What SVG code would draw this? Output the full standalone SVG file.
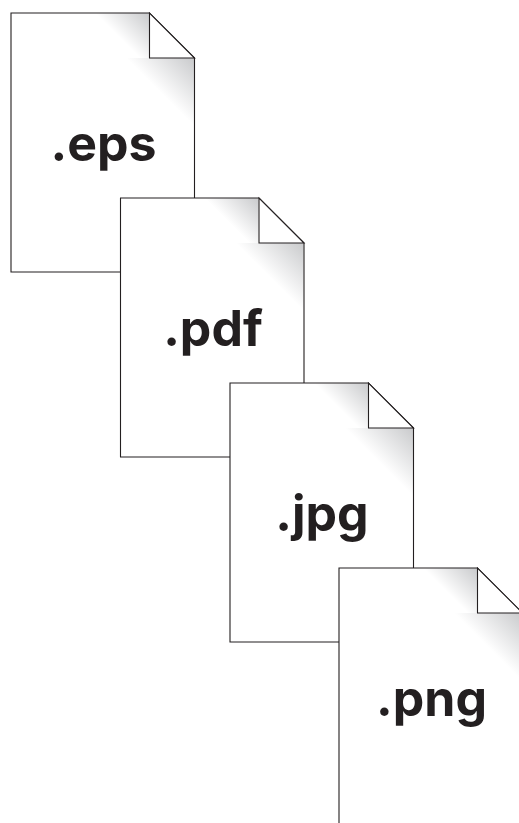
<svg xmlns="http://www.w3.org/2000/svg" width="519" height="823" viewBox="0 0 519 823">
<style>
.page{fill:#fff;stroke:none}
.edge{fill:none;stroke:#231f20;stroke-width:1.1;stroke-linejoin:miter}
.fold{fill:#fff;stroke:#231f20;stroke-width:1.1}
.label{font-family:"Inter","Liberation Sans",sans-serif;font-weight:700;font-size:50px;fill:#231f20;text-anchor:middle}
</style>
<defs>
<linearGradient id="s1" gradientUnits="userSpaceOnUse" x1="149" y1="13" x2="122" y2="40"><stop offset="0" stop-color="#c9cacc"/><stop offset="1" stop-color="#fff"/></linearGradient>
<linearGradient id="s2" gradientUnits="userSpaceOnUse" x1="194" y1="58" x2="160" y2="92"><stop offset="0" stop-color="#c9cacc"/><stop offset="1" stop-color="#fff"/></linearGradient>
<g id="doc">
<path class="page" d="M0 0H138.500L183.500 45V259H0Z"/>
<path fill="url(#s1)" transform="translate(-11 -13)" d="M95 13H149V67H95Z"/>
<path fill="url(#s2)" transform="translate(-11 -13)" d="M125 58H194V127H125Z"/>
<path class="edge" d="M0 0H138.500L183.500 45V259H0Z"/>
<path class="fold" d="M138.500 0V45H183.500Z"/>
</g>
</defs>
<g id="doc-eps"><use href="#doc" x="11" y="13"/><text class="label" x="103.500" y="161">.eps</text></g>
<g id="doc-pdf"><use href="#doc" x="120.500" y="198"/><text class="label" x="213" y="346">.pdf</text></g>
<g id="doc-jpg"><use href="#doc" x="230" y="383"/><text class="label" x="322" y="531">.jpg</text></g>
<g id="doc-png"><use href="#doc" x="339" y="568"/><text class="label" x="431.500" y="716">.png</text></g>
</svg>
